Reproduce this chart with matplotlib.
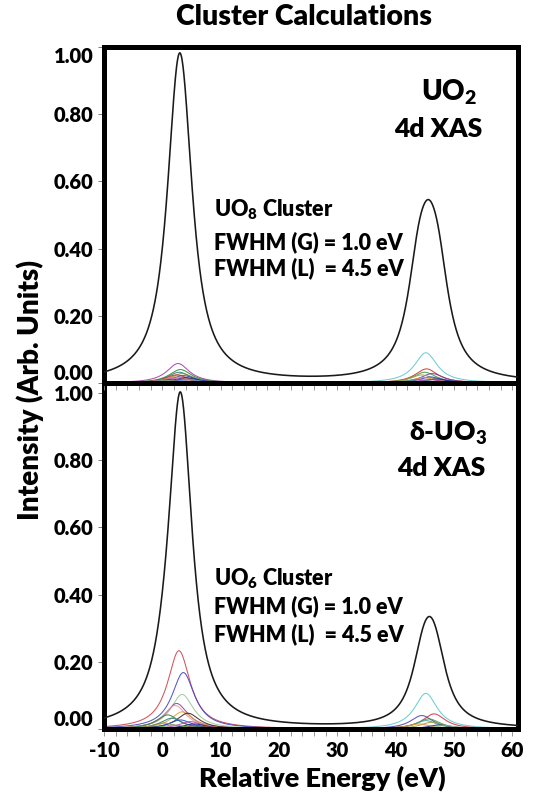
import numpy as np
import matplotlib
matplotlib.use("Agg")
import matplotlib.pyplot as plt
from matplotlib.ticker import MultipleLocator, FormatStrFormatter

plt.rcParams['font.family'] = ['Lato', 'DejaVu Sans']
plt.rcParams['axes.unicode_minus'] = False
WEIGHT = 'heavy'

# Broadening stated on the chart (eV)
FWHM_G = 1.0
FWHM_L = 4.5

# Total spectra: stick energies (eV) and peak heights
uo2_total_e = [2.5, 3.5, 43.9, 45.6, 47.3]
uo2_total_h = [0.512, 0.512, 0.234, 0.234, 0.234]
uo3_total_e = [0.5, 2.8, 3.4, 44.6, 45.8, 47.0]
uo3_total_h = [0.04, 0.50, 0.50, 0.128, 0.128, 0.128]

# Individual multiplet components: energy, height, colour
uo2_comp_e = [2.7, 3.1, 2.9, 3.4, 2.4, 3.6, 2.2, 4.0, 1.8, 3.8, 1.2, 4.6, 0.5,
              45.2, 45.3, 45.0, 46.3, 44.5, 46.0, 44.8, 47.0, 43.8, 45.8]
uo2_comp_h = [0.058, 0.040, 0.032, 0.028, 0.024, 0.022, 0.018, 0.016, 0.014,
              0.012, 0.010, 0.010, 0.008,
              0.090, 0.042, 0.032, 0.028, 0.024, 0.018, 0.016, 0.012, 0.010, 0.010]
uo2_comp_c = ['#a040a8', '#2e8b2e', '#2a8080', '#8a8a30', '#cc3030', '#3040c0',
              '#e08a30', '#202080', '#d070a0', '#7a4a2a', '#6030a0', '#60a0e0',
              '#80b080',
              '#60c8d0', '#d03030', '#40a040', '#7040a0', '#a0a040', '#3040c0',
              '#e09030', '#203080', '#30a0a0', '#b040b0']

uo3_comp_e = [2.85, 3.6, 3.4, 2.45, 2.2, 3.4, 4.4, 0.9, 1.6, 3.1, 4.8, 0.2, 5.5,
              2.0, 6.0,
              45.2, 44.5, 46.6, 45.7, 45.2, 46.2, 44.0, 47.5, 48.5]
uo3_comp_h = [0.233, 0.168, 0.103, 0.076, 0.070, 0.051, 0.047, 0.042, 0.032,
              0.027, 0.022, 0.018, 0.015, 0.012, 0.010,
              0.106, 0.040, 0.045, 0.030, 0.025, 0.020, 0.015, 0.012, 0.010]
uo3_comp_c = ['#d04048', '#4444c8', '#98c898', '#9040a0', '#e0a0a0', '#e0a040',
              '#402020', '#308030', '#308080', '#2050c0', '#c040c0', '#909030',
              '#202080', '#60b060', '#805030',
              '#60c8d0', '#5040b0', '#d03040', '#40a040', '#40a0a0', '#a0a040',
              '#e09030', '#203080', '#90c0a0']

y_ticks = [0.0, 0.2, 0.4, 0.6, 0.8, 1.0]
x_ticks = [-10, 0, 10, 20, 30, 40, 50, 60]

energy = np.linspace(-10, 61, 1400)


def pseudo_voigt(x, x0):
    """Unit-height pseudo-Voigt line (Thompson-Cox-Hastings)."""
    fg, fl = FWHM_G, FWHM_L
    f = (fg**5 + 2.69269 * fg**4 * fl + 2.42843 * fg**3 * fl**2
         + 4.47163 * fg**2 * fl**3 + 0.07842 * fg * fl**4 + fl**5) ** 0.2
    r = fl / f
    eta = 1.36603 * r - 0.47719 * r**2 + 0.11116 * r**3
    d = x - x0
    lor = 1.0 / (1.0 + (2 * d / f) ** 2)
    gau = np.exp(-4 * np.log(2) * (d / f) ** 2)
    return eta * lor + (1 - eta) * gau


def spectrum(es, hs):
    return sum(h * pseudo_voigt(energy, e) for e, h in zip(es, hs))


fig = plt.figure(figsize=(5.33, 7.95), dpi=100)
W, H = 533, 795
left, right = 104, 518
ax1 = fig.add_axes([left / W, 1 - 383 / H, (right - left) / W, (383 - 47) / H])
ax2 = fig.add_axes([left / W, 1 - 729 / H, (right - left) / W, (729 - 383) / H])
ax2.set_facecolor('none')
ax1.set_zorder(3)
ax1.patch.set_visible(False)


def draw_panel(ax, comp_e, comp_h, comp_c, tot_e, tot_h, ytop):
    for e, h, c in zip(comp_e, comp_h, comp_c):
        ax.plot(energy, h * pseudo_voigt(energy, e), color=c, lw=0.75,
                alpha=0.9, zorder=2)
    ax.plot(energy, spectrum(tot_e, tot_h), color='#1a1a1a', lw=1.15, zorder=3)
    ax.set_xlim(-10, 61)
    ax.set_ylim(0, ytop)
    ax.set_yticks(y_ticks)
    ax.yaxis.set_major_formatter(FormatStrFormatter('%.2f'))
    ax.set_xticks(x_ticks)
    ax.xaxis.set_minor_locator(MultipleLocator(2))
    for s in ax.spines.values():
        s.set_linewidth(3.6)
        s.set_color('black')
    ax.tick_params(axis='y', which='major', direction='out', length=4.5,
                   width=0.6, color='#666666', pad=3, labelsize=14.5)
    ax.tick_params(axis='x', which='both', direction='out', length=5,
                   width=0.6, color='#888888', pad=3.5, labelsize=14.5)
    for lab in ax.get_yticklabels() + ax.get_xticklabels():
        lab.set_fontweight(WEIGHT)


draw_panel(ax1, uo2_comp_e, uo2_comp_h, uo2_comp_c, uo2_total_e, uo2_total_h, 1.0)
draw_panel(ax2, uo3_comp_e, uo3_comp_h, uo3_comp_c, uo3_total_e, uo3_total_h, 1.03)
ax1.tick_params(axis='x', labelbottom=False)
ax2.spines['top'].set_visible(False)

# keep the end labels of the stacked panels clear of each other
ylabs1 = ax1.get_yticklabels()
ylabs1[0].set_va('bottom')
ylabs1[-1].set_va('top')
ax2.get_yticklabels()[0].set_va('bottom')

txt = dict(fontweight=WEIGHT, color='black')
ax1.text(0.902, 0.865, r'UO$_\mathdefault{2}$', transform=ax1.transAxes,
         ha='right', va='center', fontsize=20, **txt)
ax1.text(0.915, 0.755, '4d XAS', transform=ax1.transAxes,
         ha='right', va='center', fontsize=19, **txt)
ax1.text(0.265, 0.515, r'UO$_\mathdefault{8}$ Cluster', transform=ax1.transAxes,
         ha='left', va='center', fontsize=15.5, **txt)
ax1.text(0.265, 0.42, 'FWHM (G) = %.1f eV' % FWHM_G, transform=ax1.transAxes,
         ha='left', va='center', fontsize=15.5, **txt)
ax1.text(0.265, 0.34, 'FWHM (L)  = %.1f eV' % FWHM_L, transform=ax1.transAxes,
         ha='left', va='center', fontsize=15.5, **txt)

ax2.text(0.925, 0.855, r'δ-UO$_\mathdefault{3}$', transform=ax2.transAxes,
         ha='right', va='center', fontsize=19, **txt)
ax2.text(0.92, 0.755, '4d XAS', transform=ax2.transAxes,
         ha='right', va='center', fontsize=19, **txt)
ax2.text(0.265, 0.435, r'UO$_\mathdefault{6}$ Cluster', transform=ax2.transAxes,
         ha='left', va='center', fontsize=15.5, **txt)
ax2.text(0.265, 0.355, 'FWHM (G) = %.1f eV' % FWHM_G, transform=ax2.transAxes,
         ha='left', va='center', fontsize=15.5, **txt)
ax2.text(0.265, 0.275, 'FWHM (L)  = %.1f eV' % FWHM_L, transform=ax2.transAxes,
         ha='left', va='center', fontsize=15.5, **txt)

fig.text(0.57, 0.979, 'Cluster Calculations', ha='center', va='center',
         fontsize=20.5, **txt)
fig.text(0.604, 0.021, 'Relative Energy (eV)', ha='center', va='center',
         fontsize=19.5, **txt)
fig.text(0.056, 0.509, 'Intensity (Arb. Units)', ha='center', va='center',
         rotation=90, fontsize=20, **txt)

fig.savefig('out.png', dpi=100, facecolor='white')
